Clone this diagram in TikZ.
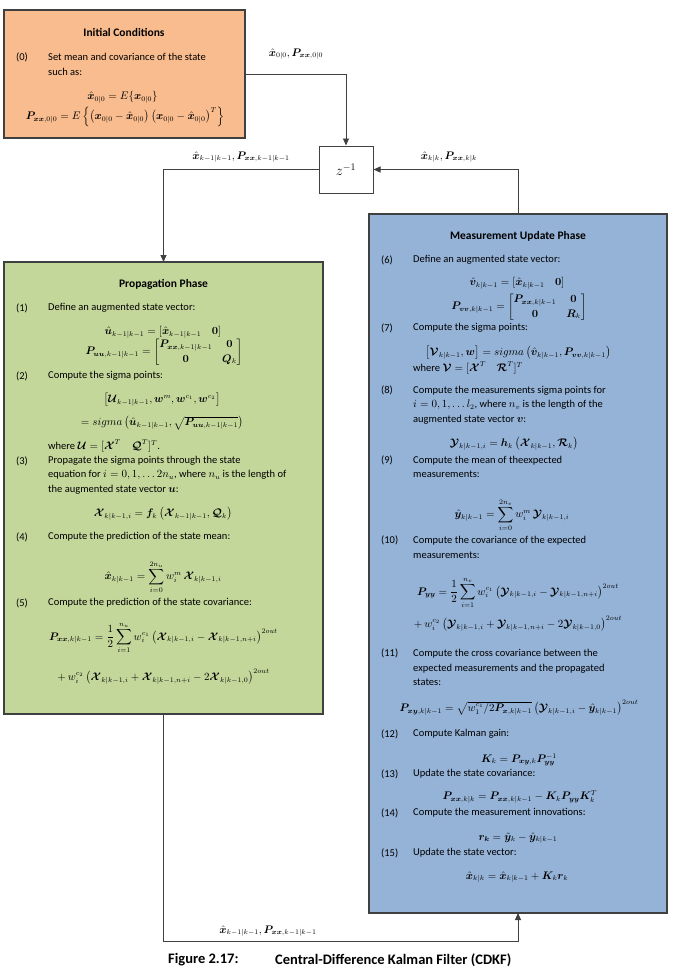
\documentclass[tikz,border=0pt]{standalone}
\usepackage{amsmath,bm}
\usepackage{fontspec}
\setmainfont{Carlito}
\usetikzlibrary{arrows.meta}
\definecolor{iniC}{HTML}{F8BC8E}
\definecolor{propC}{HTML}{C4D79B}
\definecolor{measC}{HTML}{95B3D7}
\definecolor{lineC}{HTML}{404040}
\newcommand{\mcU}{\bm{\mathcal{U}}}
\newcommand{\mcX}{\bm{\mathcal{X}}}
\newcommand{\mcQ}{\bm{\mathcal{Q}}}
\newcommand{\mcR}{\bm{\mathcal{R}}}
\newcommand{\mcV}{\bm{\mathcal{V}}}
\newcommand{\mcY}{\bm{\mathcal{Y}}}
\begin{document}
\begin{tikzpicture}[x=1pt,y=-1pt,font=\fontsize{10.5}{14.5}\selectfont,
  box/.style={draw=lineC,line width=1.1pt,inner sep=0pt,outer sep=0pt,anchor=north west},
  ttl/.style={font=\fontsize{11.5}{13}\selectfont\bfseries,inner sep=0pt},
  txt/.style={anchor=west,inner sep=0pt,align=left},
  eqn/.style={inner sep=0pt},
  lbl/.style={inner sep=0pt},
  arr/.style={draw=lineC,line width=0.9pt,-{Triangle[length=7pt,width=6pt]}},
  captxt/.style={anchor=west,inner sep=0pt,font=\fontsize{14.5}{16}\selectfont\bfseries}]
\useasboundingbox (0,0) rectangle (678,979);

% boxes
\node[box,fill=iniC,minimum width=241pt,minimum height=128pt] (init) at (4,10) {};
\node[box,fill=propC,minimum width=319pt,minimum height=452pt] (prop) at (4,262) {};
\node[box,fill=measC,minimum width=298pt,minimum height=699pt] (meas) at (369,214) {};
\node[draw=lineC,line width=1pt,fill=white,minimum width=54pt,minimum height=47pt,inner sep=0pt] (z) at (346,169.5) {\fontsize{14}{16}\selectfont$z^{-1}$};

% connectors
\coordinate (bot) at (163.5,941);
\draw[arr] (init.east) -| (z.north);
\draw[arr] (z.west) -| (prop.north);
\draw[arr] (meas.north) |- (z.east);
\draw[arr] (prop.south) -- (bot) -| (meas.south);

% connector labels
\node[lbl] (l0) at (296,54) {$\hat{\bm x}_{0|0}, \bm P_{\bm{xx},0|0}$};
\node[lbl] (l1) at (241,157) {$\hat{\bm x}_{k-1|k-1}, \bm P_{\bm{xx},k-1|k-1}$};
\node[lbl] (l2) at (449,157) {$\hat{\bm x}_{k|k}, \bm P_{\bm{xx},k|k}$};
\node[lbl] (l3) at (268,931) {$\hat{\bm x}_{k-1|k-1}, \bm P_{\bm{xx},k-1|k-1}$};

% initial conditions
\node[ttl] (t0) at (124,33) {Initial Conditions};
\node[txt] (n0) at (16,57) {(0)};
\node[txt] (s0) at (48,64.5) {Set mean and covariance of the state\\such as:};
\node[eqn] (e0a) at (122.5,97) {$\hat{\bm x}_{0|0} = E\{\bm x_{0|0}\}$};
\node[eqn] (e0b) at (125,117) {$\bm P_{\bm{xx},0|0} = E\left\{\left(\bm x_{0|0}-\hat{\bm x}_{0|0}\right)\left(\bm x_{0|0}-\hat{\bm x}_{0|0}\right)^T\right\}$};

% propagation phase
\node[ttl] (t1) at (163.5,284) {Propagation Phase};
\node[txt] (n1) at (16,308) {(1)};
\node[txt] (s1) at (48,308) {Define an augmented state vector:};
\node[eqn] (e1a) at (163,332) {$\hat{\bm u}_{k-1|k-1} = [\hat{\bm x}_{k-1|k-1}\quad \bm 0]$};
\node[eqn] (e1b) at (164,352) {$\bm P_{\bm{uu},k-1|k-1} = \begin{bmatrix}\bm P_{\bm{xx},k-1|k-1} & \bm 0\\ \bm 0 & \bm Q_k\end{bmatrix}$};
\node[txt] (n2) at (16,376) {(2)};
\node[txt] (s2) at (48,376) {Compute the sigma points:};
\node[eqn] (e2a) at (162,400) {$\left[\mcU_{k-1|k-1}, \bm w^m, \bm w^{c_1}, \bm w^{c_2}\right]$};
\node[eqn] (e2b) at (162,423) {$= sigma\left(\hat{\bm u}_{k-1|k-1}, \sqrt{\bm P_{\bm{uu},k-1|k-1}}\right)$};
\node[txt] (s2b) at (48,446) {where $\mcU = [\mcX^T\quad \mcQ^T]^T$.};
\node[txt] (n3) at (16,461) {(3)};
\node[txt] (s3) at (48,475) {Propagate the sigma points through the state\\equation for $i=0,1,\ldots 2n_u$, where $n_u$ is the length of\\the augmented state vector $\bm u$:};
\node[eqn] (e3) at (163,514) {$\mcX_{k|k-1,i} = \bm f_k\left(\mcX_{k-1|k-1}, \mcQ_k\right)$};
\node[txt] (n4) at (16,537) {(4)};
\node[txt] (s4) at (48,537) {Compute the prediction of the state mean:};
\node[eqn] (e4) at (163,577) {$\displaystyle \hat{\bm x}_{k|k-1} = \sum_{i=0}^{2n_u} w_i^m\, \mcX_{k|k-1,i}$};
\node[txt] (n5) at (16,603) {(5)};
\node[txt] (s5) at (48,603) {Compute the prediction of the state covariance:};
\node[eqn] (e5a) at (163.5,638) {$\displaystyle \bm P_{\bm{xx},k|k-1} = \frac{1}{2}\sum_{i=1}^{n_u} w_i^{c_1}\left(\mcX_{k|k-1,i} - \mcX_{k|k-1,n+i}\right)^{2out}$};
\node[eqn] (e5b) at (163.5,677) {$+\, w_i^{c_2}\left(\mcX_{k|k-1,i} + \mcX_{k|k-1,n+i} - 2\mcX_{k|k-1,0}\right)^{2out}$};

% measurement update phase
\node[ttl] (t2) at (518,236) {Measurement Update Phase};
\node[txt] (n6) at (381,260) {(6)};
\node[txt] (s6) at (413,260) {Define an augmented state vector:};
\node[eqn] (e6a) at (517,283) {$\hat{\bm v}_{k|k-1} = [\hat{\bm x}_{k|k-1}\quad \bm 0]$};
\node[eqn] (e6b) at (519,307) {$\bm P_{\bm{vv},k|k-1} = \begin{bmatrix}\bm P_{\bm{xx},k|k-1} & \bm 0\\ \bm 0 & \bm R_k\end{bmatrix}$};
\node[txt] (n7) at (381,328) {(7)};
\node[txt] (s7) at (413,328) {Compute the sigma points:};
\node[eqn] (e7) at (518,353) {$\left[\mcV_{k|k-1}, \bm w\right] = sigma\left(\hat{\bm v}_{k|k-1}, \bm P_{\bm{vv},k|k-1}\right)$};
\node[txt] (s7b) at (413,368) {where $\mcV = [\mcX^T\quad \mcR^T]^T$};
\node[txt] (n8) at (381,390) {(8)};
\node[txt] (s8) at (413,405) {Compute the measurements sigma points for\\$i=0,1,\ldots l_2$, where $n_v$ is the length of the\\augmented state vector $\bm v$:};
\node[eqn] (e8) at (514,444) {$\mcY_{k|k-1,i} = \bm h_k\left(\mcX_{k|k-1}, \mcR_k\right)$};
\node[txt] (n9) at (381,460) {(9)};
\node[txt] (s9) at (413,467) {Compute the mean of theexpected\\measurements:};
\node[eqn] (e9) at (512,515) {$\displaystyle \hat{\bm y}_{k|k-1} = \sum_{i=0}^{2n_v} w_i^m\, \mcY_{k|k-1,i}$};
\node[txt] (n10) at (381,540) {(10)};
\node[txt] (s10) at (413,547.5) {Compute the covariance of the expected\\measurements:};
\node[eqn] (e10a) at (518,593) {$\displaystyle \bm P_{\bm{yy}} = \frac{1}{2}\sum_{i=1}^{n_v} w_i^{c_1}\left(\mcY_{k|k-1,i} - \mcY_{k|k-1,n+i}\right)^{2out}$};
\node[eqn] (e10b) at (518,624) {$+\, w_i^{c_2}\left(\mcY_{k|k-1,i} + \mcY_{k|k-1,n+i} - 2\mcY_{k|k-1,0}\right)^{2out}$};
\node[txt] (n11) at (381,653) {(11)};
\node[txt] (s11) at (413,667.5) {Compute the cross covariance between the\\expected measurements and the propagated\\states:};
\node[eqn] (e11) at (519,708) {$\bm P_{\bm{xy},k|k-1} = \sqrt{w_1^{c_1}/2\bm P_{\bm x,k|k-1}}\left(\mcY_{k|k-1,i} - \hat{\bm y}_{k|k-1}\right)^{2out}$};
\node[txt] (n12) at (381,734) {(12)};
\node[txt] (s12) at (413,734) {Compute Kalman gain:};
\node[eqn] (e12) at (519,760) {$\bm K_k = \bm P_{\bm{xy},k}\bm P_{\bm{yy}}^{-1}$};
\node[txt] (n13) at (381,774) {(13)};
\node[txt] (s13) at (413,774) {Update the state covariance:};
\node[eqn] (e13) at (520,797) {$\bm P_{\bm{xx},k|k} = \bm P_{\bm{xx},k|k-1} - \bm K_k\bm P_{\bm{yy}}\bm K_k^T$};
\node[txt] (n14) at (381,813) {(14)};
\node[txt] (s14) at (413,813) {Compute the measurement innovations:};
\node[eqn] (e14) at (518,838) {$\bm r_{\bm k} = \tilde{\bm y}_k - \hat{\bm y}_{k|k-1}$};
\node[txt] (n15) at (381,853) {(15)};
\node[txt] (s15) at (413,853) {Update the state vector:};
\node[eqn] (e15) at (517,877) {$\hat{\bm x}_{k|k} = \hat{\bm x}_{k|k-1} + \bm K_k\bm r_k$};

% caption
\node[captxt] (c1) at (168,960) {Figure 2.17:};
\node[captxt] (c2) at (275,960) {Central-Difference Kalman Filter (CDKF)};
\end{tikzpicture}
\end{document}
